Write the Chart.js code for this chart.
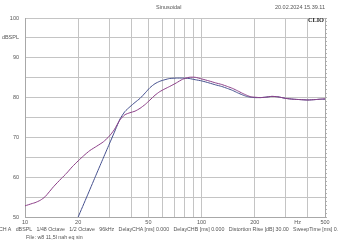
<!DOCTYPE html>
<html>
<head>
<meta charset="utf-8">
<script src="https://cdn.jsdelivr.net/npm/chart.js@4.4.0/dist/chart.umd.min.js"></script>
<style>
  html, body { margin: 0; padding: 0; background: #ffffff; }
  #wrap { position: relative; width: 338px; height: 250px; overflow: hidden; background: #fff; }
  #c { position: absolute; left: 0; top: 0; }
  .t { position: absolute; font-family: 'Liberation Sans', Arial, sans-serif; font-size: 5.5px; color: #555; white-space: nowrap; line-height: 7px; }
  .foot { font-size: 5.3px; }
  .foot span { margin-right: 4.3px; }
  .clio { font-family: 'Liberation Serif', 'DejaVu Serif', serif; font-weight: bold; font-size: 6.3px; color: #222; }
</style>
</head>
<body>
<div id="wrap">
  <canvas id="c" width="338" height="250"></canvas>
  <div class="t" style="left:156px; top:4px;">Sinusoidal</div>
  <div class="t" style="right:13px; top:4px;">20.02.2024 15.39.11</div>
  <div class="t clio" style="right:14px; top:16px;">CLIO</div>
  <div class="t foot" style="left:-1px; top:226px;"><span>CH A</span><span>dBSPL</span><span>1/48 Octave</span><span>1/2 Octave</span><span>96kHz</span><span>DelayCHA [ms] 0.000</span><span>DelayCHB [ms] 0.000</span><span>Distortion Rise [dB] 30.00</span><span>SweepTime [ms] 0.000</span></div>
  <div class="t foot" style="left:26px; top:234px;">File: w8 11,5l nah eq sin</div>
</div>
<script>
// ---- data ----
const freqBlue = [20, 22.5, 25, 27.5, 30, 32.5, 34.5, 36.8, 39.3, 42, 44.8, 48, 51, 54.5, 58, 62, 66, 72, 78, 85, 92, 100, 110, 120, 130, 140, 150, 160, 170, 180, 190, 200, 215, 230, 250, 270, 300, 330, 360, 400, 440, 470, 500];
const splBlue  = [50, 55.3, 60.1, 64.4, 68.3, 71.9, 74.6, 76.5, 77.7, 78.8, 79.8, 81.2, 82.5, 83.5, 84.1, 84.5, 84.8, 84.9, 84.9, 84.8, 84.5, 84.2, 83.7, 83.2, 82.8, 82.3, 81.8, 81.2, 80.7, 80.3, 80.1, 80.0, 80.0, 80.1, 80.3, 80.2, 79.8, 79.6, 79.5, 79.4, 79.5, 79.6, 79.6];

const freqPurple = [10, 11, 11.4, 12.2, 13, 14.5, 16, 17.2, 18.5, 20, 21.5, 23.3, 25.5, 27.8, 30, 32, 34.5, 36.8, 39.3, 42, 44.8, 48, 51, 54.5, 58, 62, 66, 72, 78, 85, 92, 100, 110, 120, 130, 140, 150, 160, 170, 180, 190, 200, 215, 230, 250, 270, 300, 330, 360, 400, 440, 470, 500];
const splPurple  = [52.8, 53.4, 53.6, 54.2, 55.1, 57.6, 59.6, 61.0, 62.6, 64.1, 65.4, 66.7, 67.8, 68.9, 70.3, 71.9, 74.4, 75.7, 76.2, 76.6, 77.3, 78.3, 79.4, 80.6, 81.5, 82.2, 82.8, 83.7, 84.6, 85.1, 85.1, 84.7, 84.2, 83.7, 83.3, 82.8, 82.3, 81.7, 81.1, 80.6, 80.2, 80.1, 80.0, 80.1, 80.3, 80.2, 79.8, 79.6, 79.5, 79.4, 79.5, 79.6, 79.7];

const xGridTicks = [10, 20, 30, 40, 50, 60, 70, 80, 90, 100, 200, 300, 350, 400, 500];
const xLabels = {10: '10', 20: '20', 50: '50', 100: '100', 200: '200', 350: 'Hz', 500: '500'};
const yLabels = {100: '100', 95: 'dBSPL', 90: '90', 80: '80', 70: '70', 60: '60', 50: '50'};

const toPts = (fs, vs) => fs.map((f, i) => ({x: f, y: vs[i]}));

const FONT = {family: "'Liberation Sans', Arial, sans-serif", size: 5.5};
const GRID = '#c4c4c4';

new Chart(document.getElementById('c'), {
  type: 'line',
  data: {
    datasets: [
      {data: toPts(freqPurple, splPurple), borderColor: '#8c3f88', borderWidth: 1, pointRadius: 0, tension: 0.2, fill: false},
      {data: toPts(freqBlue, splBlue), borderColor: '#45508e', borderWidth: 1, pointRadius: 0, tension: 0.2, fill: false}
    ]
  },
  options: {
    responsive: false,
    devicePixelRatio: 1,
    animation: false,
    events: [],
    layout: {padding: {top: 18, right: 0, left: 0, bottom: 0}},
    plugins: {legend: {display: false}, tooltip: {enabled: false}, title: {display: false}},
    scales: {
      x: {
        type: 'logarithmic',
        min: 10, max: 500,
        afterBuildTicks: (s) => { s.ticks = xGridTicks.map(v => ({value: v})); },
        afterFit: (s) => { s.height = 33; },
        ticks: {
          autoSkip: false, maxRotation: 0, minRotation: 0, padding: 2,
          font: FONT, color: '#555',
          callback: (v) => xLabels[v] !== undefined ? xLabels[v] : ''
        },
        grid: {
          drawTicks: false,
          color: (ctx) => (ctx.tick && ctx.tick.value === 350) ? 'rgba(0,0,0,0)' : GRID,
          lineWidth: 1
        },
        border: {color: '#a8a8a8'}
      },
      y: {
        type: 'linear',
        min: 50, max: 100,
        afterFit: (s) => { s.width = 25; },
        ticks: {
          stepSize: 5, padding: 6, font: FONT, color: '#555',
          callback: (v) => yLabels[v] !== undefined ? yLabels[v] : ''
        },
        grid: {drawTicks: false, color: GRID, lineWidth: 1},
        border: {color: '#a8a8a8'}
      },
      y2: {
        type: 'linear',
        position: 'right',
        min: 50, max: 100,
        afterFit: (s) => { s.width = 13; },
        ticks: {stepSize: 1, display: false},
        grid: {drawOnChartArea: false, drawTicks: true, tickLength: 2, color: '#b0b0b0'},
        border: {color: '#a8a8a8'}
      }
    }
  }
});
</script>
</body>
</html>
